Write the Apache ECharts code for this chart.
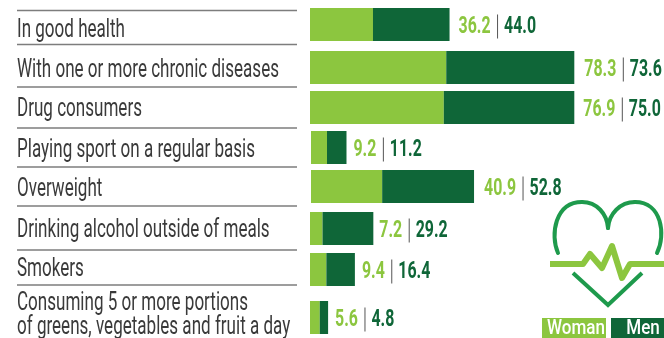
<!DOCTYPE html>
<html><head><meta charset="utf-8">
<style>html,body{margin:0;padding:0;background:#fff}#c{width:664px;height:338px}</style>
<script src="https://cdn.jsdelivr.net/npm/echarts@6/dist/echarts.min.js"></script>
</head><body><div id="c"></div>
<script>
const categories = ["In good health","With one or more chronic diseases","Drug consumers","Playing sport on a regular basis","Overweight","Drinking alcohol outside of meals","Smokers","Consuming 5 or more portions\nof greens, vegetables and fruit a day"];
const women = [36.2,78.3,76.9,9.2,40.9,7.2,9.4,5.6];
const men = [44.0,73.6,75.0,11.2,52.8,29.2,16.4,4.8];
const seriesNames = ["Woman","Men"];

// layout only
const rowTop = [8,51,91,131,170,212,253,301];
const rowLeft = [310,310,310,311,311,310,310,310];
const ruleY = [10.5,44.5,87,128,167,206,250,285];
const textY = [30.5,70.5,109.5,150.5,189.5,230.5,269.5,316];
const labelGap = [9,10,9,7,10,6,7,7];
const LIGHT='#8CC63F', DARK='#0F6638', HEART='#1E9A4C', FONT='Roboto,sans-serif';

const cv=document.createElement('canvas').getContext('2d');
function tw(t,f){cv.font=f;return cv.measureText(t).width;}
const catFont='25px '+FONT, valFont='bold 23px '+FONT, legFont='500 21px '+FONT;
const catScale=262/tw(categories[1],catFont);
const valScale=32/tw('36.2',valFont);

function renderLabel(i){
  return function(params,api){
    const p=api.coord([api.value(0),0]);
    const a=women[i].toFixed(1), b=men[i].toFixed(1);
    const x0=p[0]+labelGap[i], y=p[1]+3;
    const wa=tw(a,valFont)*valScale;
    const sx=x0+wa+6.5;
    return {type:'group',children:[
      {type:'text',x:x0,y:y,scaleX:valScale,style:{text:a,fill:LIGHT,font:valFont,align:'left',verticalAlign:'middle'}},
      {type:'rect',shape:{x:sx,y:y-13,width:1,height:24},style:{fill:'#555'}},
      {type:'text',x:sx+7,y:y,scaleX:valScale,style:{text:b,fill:DARK,font:valFont,align:'left',verticalAlign:'middle'}}
    ]};
  };
}

const grid=[],xAxis=[],yAxis=[],series=[];
categories.forEach((c,i)=>{
  grid.push({left:rowLeft[i],top:rowTop[i],width:348,height:33});
  xAxis.push({type:'value',gridIndex:i,min:0,max:200,show:false});
  yAxis.push({type:'category',gridIndex:i,data:[c],show:false});
  series.push({name:seriesNames[0],type:'bar',stack:'s'+i,xAxisIndex:i,yAxisIndex:i,barWidth:'100%',silent:true,
    data:[women[i]],itemStyle:{color:LIGHT}});
  series.push({name:seriesNames[1],type:'bar',stack:'s'+i,xAxisIndex:i,yAxisIndex:i,barWidth:'100%',silent:true,
    data:[men[i]],itemStyle:{color:DARK}});
  series.push({type:'custom',xAxisIndex:i,yAxisIndex:i,silent:true,clip:false,z:5,
    encode:{x:0,y:1},data:[[women[i]+men[i],0]],renderItem:renderLabel(i)});
});

const graphic=[];
ruleY.forEach(y=>graphic.push({type:'line',silent:true,shape:{x1:17,y1:y,x2:297,y2:y},style:{stroke:'#7d7d7d',lineWidth:1.6}}));
categories.forEach((c,i)=>{
  graphic.push({type:'text',silent:true,x:17,y:textY[i],scaleX:catScale,style:{text:c,fill:'#3a3a3a',font:catFont,lineHeight:24,verticalAlign:'middle'}});
});
const hs={fill:null,stroke:HEART,lineWidth:4,lineCap:'round'};
[[558,253,550,235,555,202,582,202],[582,202,597,202,607,214,608,228],[608,228,609,214,620,202,635,202],[635,202,662,202,666,235,657,253]].forEach(b=>{
  graphic.push({type:'bezierCurve',silent:true,shape:{x1:b[0],y1:b[1],cpx1:b[2],cpy1:b[3],cpx2:b[4],cpy2:b[5],x2:b[6],y2:b[7]},style:hs});
});
graphic.push({type:'polyline',silent:true,shape:{points:[[573,273],[608,305],[642,273]]},style:{fill:null,stroke:HEART,lineWidth:4}});
graphic.push({type:'polyline',silent:true,shape:{points:[[550,264],[583,264],[590,254],[602,268],[612,246],[622,278],[630,264],[664,264]]},style:{fill:null,stroke:LIGHT,lineWidth:6,lineJoin:'round'}});
graphic.push({type:'rect',silent:true,shape:{x:542,y:318,width:64,height:20},style:{fill:LIGHT}});
graphic.push({type:'rect',silent:true,shape:{x:611,y:318,width:53,height:20},style:{fill:DARK}});
const legScale=58/tw('Woman',legFont);
graphic.push({type:'text',silent:true,x:576,y:329,scaleX:legScale,style:{text:seriesNames[0],fill:'#fff',font:legFont,align:'center',verticalAlign:'middle'}});
graphic.push({type:'text',silent:true,x:643,y:329,scaleX:legScale,style:{text:seriesNames[1],fill:'#fff',font:legFont,align:'center',verticalAlign:'middle'}});

const chart=echarts.init(document.getElementById('c'),null,{renderer:'canvas'});
chart.setOption({animation:false,backgroundColor:'#fff',grid,xAxis,yAxis,series,graphic});
</script></body></html>
